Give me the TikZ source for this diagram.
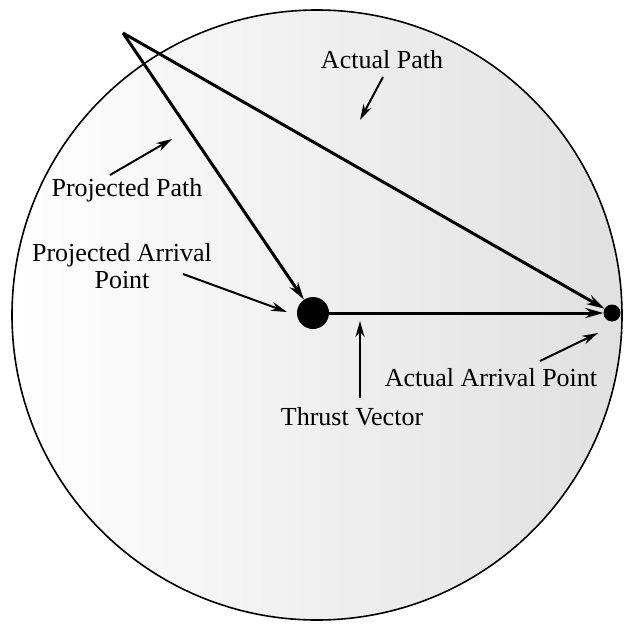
\documentclass[tikz,border=0pt]{standalone}
\usepackage{fontspec}
\setmainfont{Liberation Serif}
\usetikzlibrary{arrows.meta}
\begin{document}
\begin{tikzpicture}[x=1pt,y=-1pt,
  mainline/.style={line width=3pt,-{Stealth[length=18pt,width=10pt]}},
  lblarrow/.style={line width=2pt,-{Stealth[length=16pt,width=9pt]}},
  lbl/.style={font=\fontsize{26}{27}\selectfont,inner sep=0pt,align=center}]
\useasboundingbox (0,0) rectangle (628,623);
\shade[left color=white,right color=black!12,draw=black,line width=1.6pt]
  (317,315) circle [radius=305];
\coordinate (apex) at (123,33);
\fill (313,313) circle [radius=16];
\node[circle,inner sep=0pt,minimum size=32pt] (proj) at (313,313) {};
\fill (612,313) circle [radius=8.5];
\node[circle,inner sep=0pt,minimum size=17pt] (act) at (612,313) {};
\draw[mainline] (apex) -- (proj);
\draw[mainline] (apex) -- (act);
\draw[mainline] (proj) -- (act);
\node[lbl] (pp) at (127,190) {Projected Path};
\node[lbl] (pap) at (122,266) {Projected Arrival\\Point};
\node[lbl] (ap) at (382,60) {Actual Path};
\node[lbl] (tv) at (352,417) {Thrust Vector};
\node[lbl] (aap) at (491,378) {Actual Arrival Point};
\coordinate (pp1) at (110,175); \coordinate (pp2) at (172,139);
\draw[lblarrow] (pp1) -- (pp2);
\coordinate (pa1) at (183,274); \coordinate (pa2) at (287,312);
\draw[lblarrow] (pa1) -- (pa2);
\coordinate (ap1) at (383,77); \coordinate (ap2) at (360,120);
\draw[lblarrow] (ap1) -- (ap2);
\coordinate (tv1) at (360,398); \coordinate (tv2) at (360,321);
\draw[lblarrow] (tv1) -- (tv2);
\coordinate (aa1) at (540,361); \coordinate (aa2) at (598,333);
\draw[lblarrow] (aa1) -- (aa2);
\end{tikzpicture}
\end{document}
